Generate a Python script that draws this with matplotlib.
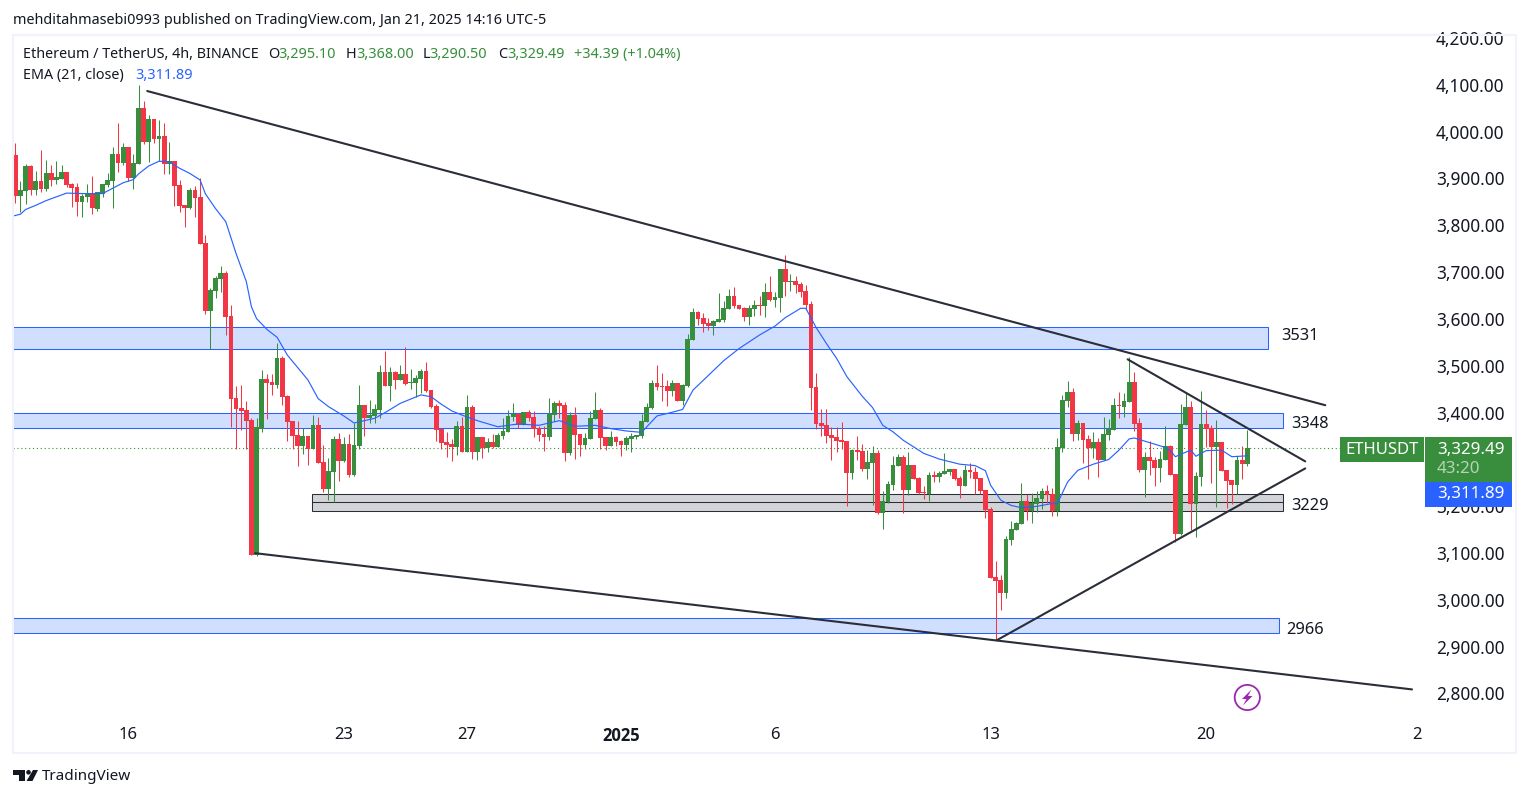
import matplotlib
matplotlib.use("Agg")
import matplotlib.pyplot as plt
from matplotlib.patches import Rectangle, Circle, Polygon

plt.rcParams["font.family"] = ["Noto Sans", "DejaVu Sans"]

W, H = 1529, 798
GREEN = "#388E3C"
RED = "#F23645"
BLUE = "#2962FF"
DARK = "#2A2E39"
TEXT = "#131722"

# 4h candles
opens = [3954,3867,3878,3931,3880,3899,3882,3916,3901,3904,
         3918,3892,3886,3854,3865,3871,3839,3872,3890,3899,
         3956,3937,3971,3905,3936,4055,3982,4031,3988,3995,
         3936,3941,3890,3847,3841,3880,3865,3766,3621,3664,
         3689,3702,3610,3435,3414,3410,3388,3100,3369,3476,
         3469,3463,3521,3440,3386,3356,3333,3354,3326,3378,
         3299,3241,3278,3348,3301,3337,3271,3333,3420,3392,
         3397,3409,3491,3461,3491,3474,3486,3468,3467,3476,
         3493,3452,3418,3369,3341,3337,3330,3375,3320,3416,
         3320,3352,3328,3341,3330,3354,3362,3395,3402,3377,
         3405,3395,3371,3358,3352,3399,3424,3420,3318,3399,
         3358,3335,3348,3391,3409,3352,3333,3352,3343,3335,
         3348,3352,3354,3384,3414,3467,3461,3461,3450,3467,
         3429,3461,3559,3619,3606,3595,3589,3597,3602,3625,
         3653,3634,3627,3608,3625,3634,3632,3662,3644,3649,
         3711,3683,3685,3679,3664,3636,3459,3382,3377,3356,
         3352,3345,3343,3275,3324,3322,3283,3296,3318,3189,
         3213,3249,3290,3309,3239,3292,3264,3234,3230,3271,
         3266,3273,3277,3283,3264,3247,3281,3277,3264,3239,
         3198,3053,3046,3019,3132,3153,3166,3215,3194,3209,
         3219,3236,3230,3194,3328,3429,3448,3358,3382,3347,
         3328,3341,3303,3356,3367,3420,3416,3426,3469,3382,
         3281,3309,3303,3285,3303,3333,3273,3145,3377,3416,
         3209,3266,3379,3371,3330,3341,3281,3260,3249,3303,
         3295.10]
closes = [3867,3880,3931,3880,3899,3882,3916,3901,3907,3918,
          3890,3884,3854,3867,3871,3841,3875,3892,3901,3956,
          3937,3971,3905,3937,4055,3982,4031,3988,3995,3936,
          3941,3888,3845,3841,3880,3862,3764,3621,3666,3692,
          3702,3608,3433,3412,3408,3386,3100,3373,3476,3467,
          3463,3521,3437,3384,3354,3333,3354,3326,3378,3296,
          3241,3279,3348,3301,3337,3271,3335,3420,3392,3399,
          3412,3491,3461,3491,3474,3486,3465,3469,3478,3493,
          3450,3416,3367,3339,3335,3330,3375,3320,3416,3320,
          3352,3328,3341,3330,3356,3365,3397,3402,3377,3405,
          3392,3369,3356,3352,3402,3424,3418,3318,3399,3356,
          3335,3350,3392,3409,3350,3333,3352,3341,3335,3350,
          3354,3356,3386,3416,3467,3459,3459,3450,3467,3429,
          3463,3561,3619,3604,3593,3589,3600,3604,3627,3653,
          3632,3625,3608,3627,3634,3632,3662,3644,3651,3711,
          3683,3685,3676,3662,3634,3456,3380,3375,3354,3350,
          3343,3341,3275,3324,3320,3283,3298,3318,3189,3215,
          3251,3292,3309,3239,3292,3262,3232,3232,3271,3266,
          3275,3279,3283,3262,3247,3281,3277,3262,3236,3196,
          3051,3044,3019,3134,3155,3168,3215,3194,3211,3221,
          3236,3228,3194,3330,3431,3448,3358,3382,3345,3328,
          3341,3303,3358,3369,3420,3418,3429,3469,3379,3281,
          3309,3300,3285,3305,3333,3271,3145,3379,3416,3209,
          3268,3379,3369,3330,3341,3279,3258,3249,3303,3295,
          3329.49]
highs = [3981,3899,3936,3933,3920,3965,3944,3933,3941,3933,
         3918,3895,3894,3871,3892,3909,3875,3892,3915,3972,
         4023,3980,3971,3956,4104,4070,4040,4031,4029,4023,
         3982,3941,3901,3847,3884,3888,3905,3783,3670,3696,
         3717,3706,3634,3461,3463,3429,3392,3392,3495,3486,
         3486,3553,3525,3442,3386,3386,3371,3354,3399,3395,
         3335,3307,3354,3360,3352,3358,3381,3463,3420,3431,
         3422,3506,3535,3501,3493,3506,3544,3497,3484,3497,
         3512,3452,3422,3371,3362,3348,3386,3394,3442,3420,
         3352,3352,3350,3358,3360,3392,3409,3424,3404,3405,
         3409,3407,3375,3375,3435,3429,3431,3427,3405,3416,
         3358,3360,3407,3448,3414,3352,3365,3354,3345,3354,
         3360,3356,3402,3424,3474,3506,3488,3474,3474,3467,
         3465,3572,3627,3621,3617,3606,3602,3659,3642,3668,
         3672,3634,3629,3634,3644,3653,3681,3696,3662,3711,
         3741,3700,3696,3683,3676,3642,3488,3412,3412,3373,
         3373,3384,3343,3326,3354,3337,3324,3333,3324,3236,
         3258,3311,3315,3313,3320,3292,3266,3247,3277,3279,
         3279,3318,3283,3283,3268,3292,3296,3288,3264,3239,
         3202,3087,3057,3140,3172,3170,3253,3230,3232,3236,
         3243,3249,3243,3350,3441,3471,3456,3388,3382,3356,
         3362,3350,3394,3390,3435,3448,3446,3523,3491,3392,
         3320,3343,3309,3322,3375,3335,3274,3422,3446,3429,
         3277,3450,3409,3377,3388,3341,3281,3260,3311,3332,
         3368]
lows = [3852,3832,3850,3869,3869,3876,3877,3889,3892,3904,
        3887,3844,3824,3823,3854,3828,3835,3865,3887,3841,
        3918,3933,3899,3882,3936,3978,3939,3980,3941,3914,
        3914,3845,3833,3800,3839,3822,3764,3615,3539,3649,
        3662,3570,3373,3326,3367,3326,3100,3098,3363,3390,
        3442,3457,3420,3343,3326,3290,3316,3292,3326,3296,
        3234,3217,3213,3258,3298,3266,3268,3326,3354,3382,
        3382,3392,3461,3429,3454,3474,3463,3454,3437,3446,
        3448,3414,3343,3326,3309,3301,3313,3320,3320,3305,
        3303,3307,3320,3328,3330,3348,3362,3386,3372,3377,
        3386,3352,3343,3322,3345,3386,3392,3301,3313,3305,
        3311,3326,3348,3391,3326,3324,3333,3333,3311,3324,
        3320,3348,3350,3384,3412,3452,3429,3418,3439,3429,
        3420,3459,3559,3591,3576,3580,3570,3597,3597,3625,
        3627,3625,3600,3591,3610,3612,3608,3642,3629,3619,
        3653,3664,3659,3651,3623,3409,3369,3354,3339,3303,
        3320,3326,3204,3262,3303,3279,3262,3207,3187,3155,
        3211,3239,3290,3189,3228,3262,3230,3219,3215,3256,
        3256,3273,3271,3260,3222,3247,3264,3230,3230,3179,
        3051,2918,2982,3008,3121,3153,3166,3174,3168,3191,
        3198,3211,3183,3183,3320,3416,3343,3345,3296,3262,
        3307,3266,3303,3345,3367,3392,3394,3426,3364,3277,
        3224,3271,3247,3256,3303,3271,3127,3142,3377,3153,
        3138,3247,3330,3254,3202,3279,3200,3209,3230,3262,
        3290.5]

# EMA(21)
ema_idx = [0.55,2,3,5,7,9,11,14,18,22,24,25,27,29,31,33,35,37,38,40,42,44,46,47,48,50,52,54,58,60,62,
           65,67,71,73,76,80,82,84,86,88,91,95,99,103,107,110,114,117,120,123,
           126,129,131,133,139,142,146,149,151,154,155,157,159,161,163,166,168,170,172,174,176,178,181,185,188,
           190,191,193,195,197,200,203,204,206,208,211,214,216,218,219,222,225,226,227,228,230,231,233,236,238,241]
ema_val = [3824,3828,3838,3847,3857,3865,3873,3872,3872,3895,3902,3914,3931,3941,3940,3926,3915,3901,3872,3840,3812,3744,3684,3630,3605,3582,3565,3527,3474,3434,3417,
           3397,3382,3392,3404,3424,3442,3438,3422,3408,3399,3387,3374,3380,3377,3387,3375,3377,3370,3365,3362,
           3397,3405,3411,3452,3515,3541,3570,3589,3607,3627,3627,3586,3552,3520,3481,3439,3415,3377,3363,3345,3331,3317,3305,3294,3291,
           3280,3249,3217,3206,3201,3204,3210,3210,3256,3281,3294,3304,3324,3348,3350,3340,3330,3323,3310,3315,3324,3311,3323,3324,3310,3311.89]

# 3,300.00 sits behind the price tag in the reference
price_ticks = [4200,4100,4000,3900,3800,3700,3600,3500,3400,3200,3100,3000,2900,2800]
date_idx = [23,65,89,119,149,191,233,275]
date_labels = ["16","23","27","2025","6","13","20","27"]

# zones: first candle, last candle, top, bottom, label
blue_zones = [(0.5,245.1,3587,3540,"3531"),(0.5,248.0,3403,3371,"3348"),(0.5,247.2,2965,2933,"2966")]
gray_zone = (58.8,248.0,3230,3195,"3229")
# trend lines: (i0, p0, i1, p1)
trend_lines = [(26.7,4091,256.2,3420),(47.7,3104,273.1,2813),(217.7,3518,252.3,3300),(192.2,2918,252.3,3285)]

last_price = closes[-1]
ema_last = 3311.89

fig = plt.figure(figsize=(W/100, H/100), dpi=100, facecolor="white")


def px(x0, y0, x1, y1):
    return [x0/W, 1-y1/H, (x1-x0)/W, (y1-y0)/H]


ax = fig.add_axes(px(13, 35, 1422, 753))
# scale: 4200 at y=40, 2800 at y=695.5
scale = (695.5-40)/1400
ax.set_ylim(4200-(753-40)/scale, 4200+5/scale)
ax.set_xlim(1+(13-15.33)/5.133, 1+(1422-15.33)/5.133)
for s in ax.spines.values():
    s.set_visible(False)

# zones
for x0, x1, top, bot, lab in blue_zones:
    ax.add_patch(Rectangle((x0, bot), x1-x0, top-bot, fc="#D1DFFF", ec=BLUE, lw=0.75, zorder=1))
x0, x1, top, bot, lab = gray_zone
ax.add_patch(Rectangle((x0, bot), x1-x0, top-bot, fc="#D3D4D8", ec=DARK, lw=0.75, zorder=1))
ax.plot([x0, x1], [(top+bot)/2, (top+bot)/2], color=DARK, lw=0.75, zorder=1)

ax.axhline(last_price, color=GREEN, lw=0.8, ls=(0, (1, 2.5)), zorder=1.5)

# candles
idx = list(range(1, len(opens)+1))
colors = [GREEN if c >= o else RED for o, c in zip(opens, closes)]
ax.vlines(idx, lows, highs, colors=colors, lw=0.75, zorder=2)
ax.bar(idx, [abs(c-o) for o, c in zip(opens, closes)], bottom=[min(o, c) for o, c in zip(opens, closes)],
       width=0.93, color=colors, lw=0, zorder=2.5)

ax.plot(ema_idx, ema_val, color=BLUE, lw=0.85, zorder=3)

for i0, p0, i1, p1 in trend_lines:
    ax.plot([i0, i1], [p0, p1], color=DARK, lw=1.5, solid_capstyle="round", zorder=4)

ax.yaxis.tick_right()
ax.set_yticks(price_ticks)
ax.set_yticklabels([f"{p:,.2f}" for p in price_ticks], fontsize=12.4, color=TEXT)
ax.tick_params(axis="y", length=0, pad=10)
for lab in ax.get_yticklabels():
    lab.set_verticalalignment("center")
ax.set_xticks(date_idx)
ax.set_xticklabels(date_labels, fontsize=12, color=TEXT)
ax.tick_params(axis="x", length=0, pad=-19)
for lab in ax.get_xticklabels():
    lab.set_clip_box(ax.bbox)
    lab.set_clip_on(True)
    if lab.get_text() == "2025":
        lab.set_family("Open Sans")
        lab.set_fontweight("bold")

# overlay in pixel coordinates: frame, price tags, header
ov = fig.add_axes([0, 0, 1, 1], zorder=5, facecolor="none")
ov.set_xlim(0, W)
ov.set_ylim(H, 0)
ov.axis("off")
ov.add_patch(Rectangle((13, 34.5), 1503, 718.5, fc="none", ec="#F0F3FA", lw=1.5))

ov.add_patch(Rectangle((1340, 437), 84, 25, fc=GREEN, ec="none"))
ov.add_patch(Rectangle((1425, 437), 87, 45, fc=GREEN, ec="none"))
ov.add_patch(Rectangle((1425, 482), 87, 25, fc=BLUE, ec="none"))
ov.text(1382, 450.5, "ETHUSDT", color="white", fontsize=12, ha="center", va="center")
ov.text(1505, 449.5, f"{last_price:,.2f}", color="white", fontsize=12.2, ha="right", va="center")
ov.text(1437, 469, "43:20", color="#B5D3B7", fontsize=12.2, ha="left", va="center")
ov.text(1505, 494.5, f"{ema_last:,.2f}", color="white", fontsize=12.2, ha="right", va="center")

ov.text(1281, 335.5, blue_zones[0][4], fontsize=11.8, color=TEXT, va="center")
ov.text(1291, 423.5, blue_zones[1][4], fontsize=11.8, color=TEXT, va="center")
ov.text(1286, 629.5, blue_zones[2][4], fontsize=11.8, color=TEXT, va="center")
ov.text(1291, 505.5, gray_zone[4], fontsize=11.8, color=TEXT, va="center")

ov.text(13, 20.5, "mehditahmasebi0993 published on TradingView.com, Jan 21, 2025 14:16 UTC-5",
        fontsize=10.35, color=TEXT, va="center")
ov.text(23, 54.5, "Ethereum / TetherUS, 4h, BINANCE", fontsize=10.3, color=TEXT, va="center")
for x, s, c in [(268, "O", TEXT), (278.5, "3,295.10", GREEN), (346, "H", TEXT), (356, "3,368.00", GREEN),
                (423, "L", TEXT), (429.5, "3,290.50", GREEN), (498, "C", TEXT), (507.5, "3,329.49", GREEN),
                (573.5, "+34.39 (+1.04%)", GREEN)]:
    ov.text(x, 54.5, s, fontsize=10.4, color=c, va="center")
ov.text(23, 75.5, "EMA (21, close)", fontsize=10.3, color=TEXT, va="center")
ov.text(135, 75.5, "3,311.89", fontsize=10.4, color=BLUE, va="center")

# lightning badge
ov.add_patch(Circle((1247.3, 697.5), 12.6, fc="white", ec="#9C27B0", lw=1.3))
ov.add_patch(Polygon([(1251.5, 689.5), (1242, 699), (1246.5, 699), (1243, 705.5), (1252.5, 696), (1248, 696)],
                     fc="#9C27B0", ec="none"))

# TradingView logo
ov.add_patch(Polygon([(13, 770), (25, 770), (25, 781), (19, 781), (19, 774.5), (13, 774.5)], fc=TEXT, ec="none"))
ov.add_patch(Circle((28.5, 772.3), 2.3, fc=TEXT, ec="none"))
ov.add_patch(Polygon([(33, 770), (38, 770), (32.5, 781), (26.5, 781)], fc=TEXT, ec="none"))
ov.text(42, 777, "TradingView", fontsize=11, color=TEXT, va="center")

fig.savefig("out.png", dpi=100)
